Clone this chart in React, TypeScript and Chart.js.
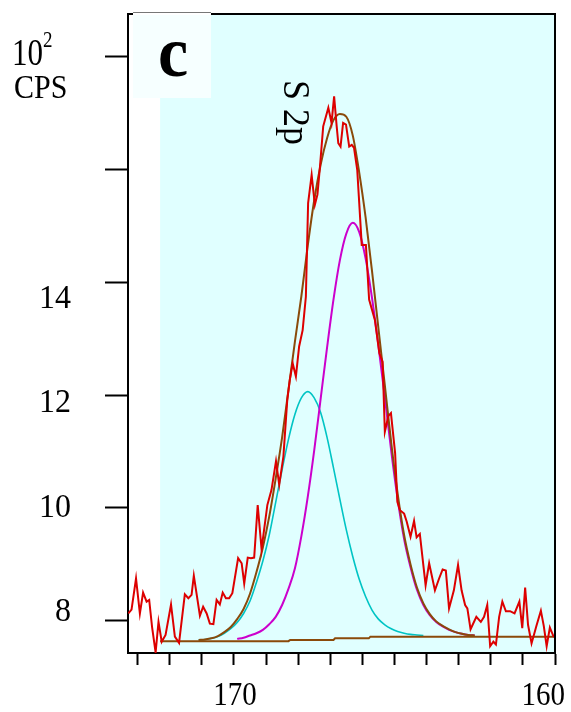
import { useEffect, useRef } from 'react';
import { Chart, registerables } from 'chart.js';

Chart.register(...registerables);

// Measured spectrum (binding energy, eV) and counts (10^2 CPS)
const rawEnergy = [
  173.29, 173.19, 173.05, 172.93, 172.83, 172.72, 172.64, 172.55, 172.44, 172.35,
  172.25, 172.13, 171.96, 171.84, 171.71, 171.53, 171.42, 171.32, 171.25, 171.06,
  170.96, 170.85, 170.75, 170.64, 170.54, 170.44, 170.35, 170.25, 170.15, 170.05,
  169.87, 169.76, 169.68, 169.57, 169.47, 169.37, 169.26, 169.14, 168.96, 168.83,
  168.69, 168.59, 168.46, 168.34, 168.26, 168.17, 168.07, 167.97, 167.86, 167.76,
  167.69, 167.58, 167.48, 167.4, 167.32, 167.22, 167.06, 166.96, 166.88, 166.8,
  166.75, 166.68, 166.6, 166.51, 166.41, 166.33, 166.26, 166.16, 166.11, 166.02,
  165.89, 165.79, 165.61, 165.47, 165.37, 165.3, 165.19, 165.11, 164.98, 164.91,
  164.83, 164.7, 164.62, 164.5, 164.39, 164.31, 164.21, 164.03, 163.92, 163.74,
  163.61, 163.5, 163.4, 163.3, 163.15, 163.02, 162.91, 162.8, 162.73, 162.63,
  162.45, 162.31, 162.21, 162.11, 162.02, 161.92, 161.84, 161.74, 161.64, 161.53,
  161.4, 161.26, 161.11, 161.02, 160.93, 160.84, 160.73, 160.58, 160.44, 160.35,
  160.26, 160.16, 160.05, 160.0,
];
const rawCps = [
  8.13, 8.2, 8.75, 8.13, 8.5, 8.34, 8.37, 7.89, 7.44, 7.98,
  7.63, 7.75, 8.29, 7.72, 7.61, 8.47, 8.4, 8.46, 8.8, 8.09,
  8.25, 8.13, 7.95, 7.94, 8.37, 8.29, 8.5, 8.4, 8.4, 8.49,
  9.11, 9.02, 8.66, 9.12, 9.11, 9.12, 10.05, 9.27, 10.05, 10.32,
  10.83, 10.41, 10.91, 11.91, 12.27, 12.56, 12.33, 12.86, 13.15, 13.74,
  15.4, 15.9, 15.37, 15.55, 16.05, 16.76, 17.09, 16.82, 17.29, 16.76,
  16.46, 16.4, 16.82, 16.79, 16.4, 16.43, 16.38, 15.99, 15.52, 14.66,
  14.66, 13.69, 13.33, 12.74, 12.59, 11.35, 11.63, 11.68, 10.97, 10.11,
  9.96, 9.9, 9.76, 9.49, 9.77, 9.48, 9.54, 8.63, 9.02, 8.54,
  8.75, 8.91, 8.89, 8.22, 8.54, 8.99, 8.54, 8.28, 8.22, 7.85,
  8.07, 7.98, 8.07, 8.28, 7.55, 7.63, 7.58, 8.07, 8.34, 8.17,
  8.17, 8.13, 8.34, 7.87, 8.59, 7.93, 7.6, 7.91, 8.18, 7.91,
  7.55, 7.88, 7.73, 7.71,
];

// Fit component 1 (cyan)
const cyanEnergy = [
  171.1, 170.9, 170.7, 170.5, 170.3, 170.1, 169.9, 169.7, 169.5, 169.3,
  169.1, 168.9, 168.7, 168.5, 168.3, 168.1, 167.9, 167.7, 167.5, 167.3,
  167.1, 166.9, 166.7, 166.5, 166.3, 166.1, 165.9, 165.7, 165.5, 165.3,
  165.1, 164.9, 164.7, 164.5, 164.3, 164.1,
];
const cyanCps = [
  7.66, 7.67, 7.69, 7.72, 7.78, 7.86, 7.97, 8.13, 8.35, 8.68,
  9.06, 9.52, 10.1, 10.68, 11.22, 11.66, 11.95, 12.06, 11.95, 11.69,
  11.25, 10.71, 10.15, 9.61, 9.14, 8.74, 8.43, 8.19, 8.03, 7.93,
  7.86, 7.81, 7.78, 7.76, 7.75, 7.74,
];

// Fit component 2 (magenta)
const magentaEnergy = [
  169.9, 169.7, 169.5, 169.3, 169.1, 168.9, 168.7, 168.5, 168.3, 168.1,
  167.9, 167.7, 167.5, 167.3, 167.1, 166.9, 166.7, 166.5, 166.3, 166.1,
  165.9, 165.7, 165.5, 165.3, 165.1, 164.9, 164.7, 164.5, 164.3, 164.1,
  163.9, 163.7, 163.5, 163.3, 163.1, 162.9, 162.7, 162.5,
];
const magentaCps = [
  7.68, 7.7, 7.74, 7.78, 7.84, 7.94, 8.07, 8.28, 8.57, 8.93,
  9.5, 10.2, 11.02, 11.93, 12.84, 13.69, 14.39, 14.86, 15.05, 14.89,
  14.42, 13.72, 12.87, 11.96, 11.0, 10.15, 9.45, 8.95, 8.55, 8.28,
  8.1, 7.98, 7.9, 7.84, 7.8, 7.77, 7.75, 7.74,
];

// Envelope (brown)
const envelopeEnergy = [
  171.1, 170.9, 170.7, 170.5, 170.3, 170.1, 169.9, 169.7, 169.5, 169.3,
  169.1, 168.9, 168.7, 168.5, 168.3, 168.1, 167.9, 167.7, 167.5, 167.3,
  167.1, 166.9, 166.7, 166.5, 166.3, 166.1, 165.9, 165.7, 165.5, 165.3,
  165.1, 164.9, 164.7, 164.5, 164.3, 164.1, 163.9, 163.7, 163.5, 163.3,
  163.1, 162.9, 162.7, 162.5,
];
const envelopeCps = [
  7.66, 7.67, 7.69, 7.73, 7.8, 7.89, 8.03, 8.21, 8.48, 8.86,
  9.3, 9.85, 10.52, 11.25, 12.1, 12.95, 13.75, 14.65, 15.45, 16.08,
  16.55, 16.87, 16.98, 16.93, 16.6, 15.95, 15.15, 14.2, 13.18, 12.17,
  11.15, 10.25, 9.52, 9.0, 8.59, 8.31, 8.12, 7.99, 7.91, 7.85,
  7.8, 7.77, 7.75, 7.74,
];

// Background (Shirley-type step, brown)
const baselineEnergy = [172.3, 168.3, 168.25, 166.9, 166.85, 165.8, 165.75, 160.0];
const baselineCps = [7.64, 7.64, 7.66, 7.66, 7.69, 7.69, 7.72, 7.72];

const xTickValues = [160, 161, 162, 163, 164, 165, 166, 167, 168, 169, 170, 171, 172, 173];
const xLabelValues = [170, 160];
const yTickValues = [8, 10, 12, 14, 16, 18];
const yLabelValues = [8, 10, 12, 14];
const xMin = 160;
const xMax = 173.3;
const yMin = 7.43;
const yMax = 18.75;
const shadeStart = 172.3;

const pts = (xs: number[], ys: number[]) => xs.map((x, i) => ({ x, y: ys[i] }));

const SERIF = '"Liberation Serif", "Times New Roman", serif';

function drawText(
  ctx: CanvasRenderingContext2D,
  text: string,
  x: number,
  y: number,
  font: string,
  align: CanvasTextAlign,
  sy: number,
  rot = 0
) {
  ctx.save();
  ctx.translate(x, y);
  if (rot) ctx.rotate(rot);
  ctx.scale(1, sy);
  ctx.font = font;
  ctx.textAlign = align;
  ctx.textBaseline = 'alphabetic';
  ctx.fillStyle = '#000';
  ctx.fillText(text, 0, 0);
  ctx.restore();
}

const decorPlugin = {
  id: 'decor',
  beforeDraw(chart: any) {
    const { ctx, chartArea, scales } = chart;
    ctx.save();
    ctx.fillStyle = '#fff';
    ctx.fillRect(0, 0, chart.width, chart.height);
    const xs = scales.x.getPixelForValue(shadeStart);
    ctx.fillStyle = 'rgb(224,255,255)';
    ctx.fillRect(xs, chartArea.top, chartArea.right - xs, chartArea.bottom - chartArea.top);
    ctx.fillStyle = '#f6ffff';
    ctx.fillRect(133, chartArea.top, 78, 84);
    ctx.restore();
  },
  afterDraw(chart: any) {
    const { ctx, chartArea, scales } = chart;
    ctx.save();
    // top and right frame
    ctx.strokeStyle = '#000';
    ctx.lineWidth = 2;
    ctx.beginPath();
    ctx.moveTo(chartArea.left, chartArea.top);
    ctx.lineTo(chartArea.right, chartArea.top);
    ctx.lineTo(chartArea.right, chartArea.bottom);
    ctx.stroke();
    // label box
    ctx.fillStyle = '#fff';
    ctx.fillRect(133, 11, 78, 4);
    ctx.strokeStyle = '#777';
    ctx.lineWidth = 1;
    ctx.beginPath();
    ctx.moveTo(133, 12.5);
    ctx.lineTo(211, 12.5);
    ctx.stroke();
    ctx.restore();

    // y tick labels
    const yTop = scales.y.getPixelForValue(14);
    const yBot = scales.y.getPixelForValue(8);
    yLabelValues.forEach((v) => {
      const p = scales.y.getPixelForValue(v);
      const t = (p - yTop) / (yBot - yTop);
      const center = 296.5 + t * (609.5 - 296.5);
      drawText(ctx, String(v), 71, center + 11.5, `32px ${SERIF}`, 'right', 1.05);
    });
    // x tick labels
    xLabelValues.forEach((v) => {
      const p = scales.x.getPixelForValue(v);
      ctx.save();
      ctx.font = `29px ${SERIF}`;
      const w = ctx.measureText(String(v)).width;
      ctx.restore();
      const limit = chart.width - 6;
      if (p + w / 2 > limit) {
        drawText(ctx, String(v), limit, chartArea.bottom + 52, `29px ${SERIF}`, 'right', 1.17);
      } else {
        drawText(ctx, String(v), p + 1, chartArea.bottom + 52, `29px ${SERIF}`, 'center', 1.17);
      }
    });
    // axis unit
    drawText(ctx, '10', 12, 65, `31px ${SERIF}`, 'left', 1.2);
    drawText(ctx, '2', 43, 47, `19px ${SERIF}`, 'left', 1.2);
    drawText(ctx, 'CPS', 14, 98, `30px ${SERIF}`, 'left', 1.15);
    // panel letter
    drawText(ctx, 'c', 158, 76, `bold 68px ${SERIF}`, 'left', 1.05);
    // peak label, rotated
    drawText(ctx, 'S 2p', 284, 80, `36px ${SERIF}`, 'left', 1.05, Math.PI / 2);
  },
};

export default function App() {
  const ref = useRef<HTMLCanvasElement | null>(null);
  useEffect(() => {
    if (!ref.current) return;
    const chart = new Chart(ref.current, {
      type: 'line',
      data: {
        datasets: [
          {
            data: pts(rawEnergy, rawCps),
            borderColor: '#dd0000',
            borderWidth: 2,
            pointRadius: 0,
            tension: 0,
          },
          {
            data: pts(baselineEnergy, baselineCps),
            borderColor: '#8a4a0a',
            borderWidth: 2,
            pointRadius: 0,
            tension: 0,
          },
          {
            data: pts(envelopeEnergy, envelopeCps),
            borderColor: '#8a4a0a',
            borderWidth: 2,
            pointRadius: 0,
            cubicInterpolationMode: 'monotone',
          },
          {
            data: pts(magentaEnergy, magentaCps),
            borderColor: '#cc00cc',
            borderWidth: 2,
            pointRadius: 0,
            cubicInterpolationMode: 'monotone',
          },
          {
            data: pts(cyanEnergy, cyanCps),
            borderColor: '#00c4c4',
            borderWidth: 1.6,
            pointRadius: 0,
            cubicInterpolationMode: 'monotone',
          },
        ],
      },
      options: {
        responsive: false,
        animation: false,
        devicePixelRatio: 1,
        layout: { padding: { top: 14, right: 16, left: 0, bottom: 0 } },
        plugins: { legend: { display: false }, tooltip: { enabled: false } },
        scales: {
          x: {
            type: 'linear',
            reverse: true,
            min: xMin,
            max: xMax,
            afterBuildTicks: (s: any) => {
              s.ticks = xTickValues.map((v) => ({ value: v }));
            },
            afterFit: (s: any) => {
              s.height = 59;
            },
            grid: {
              drawOnChartArea: false,
              drawTicks: true,
              tickLength: 12,
              tickWidth: 2,
              tickColor: '#000',
            },
            border: { display: true, color: '#000', width: 2 },
            ticks: { display: false },
          },
          y: {
            type: 'linear',
            min: yMin,
            max: yMax,
            afterBuildTicks: (s: any) => {
              s.ticks = yTickValues.map((v) => ({ value: v }));
            },
            afterFit: (s: any) => {
              s.width = 128;
            },
            grid: {
              drawOnChartArea: false,
              drawTicks: true,
              tickLength: 23,
              tickWidth: 2,
              tickColor: '#000',
            },
            border: { display: true, color: '#000', width: 2 },
            ticks: { display: false },
          },
        },
      },
      plugins: [decorPlugin],
    } as any);
    return () => chart.destroy();
  }, []);
  return (
    <div style={{ position: 'absolute', left: 0, top: 0, width: 571, height: 712 }}>
      <canvas ref={ref} width={571} height={712} style={{ display: 'block', width: 571, height: 712 }} />
    </div>
  );
}
